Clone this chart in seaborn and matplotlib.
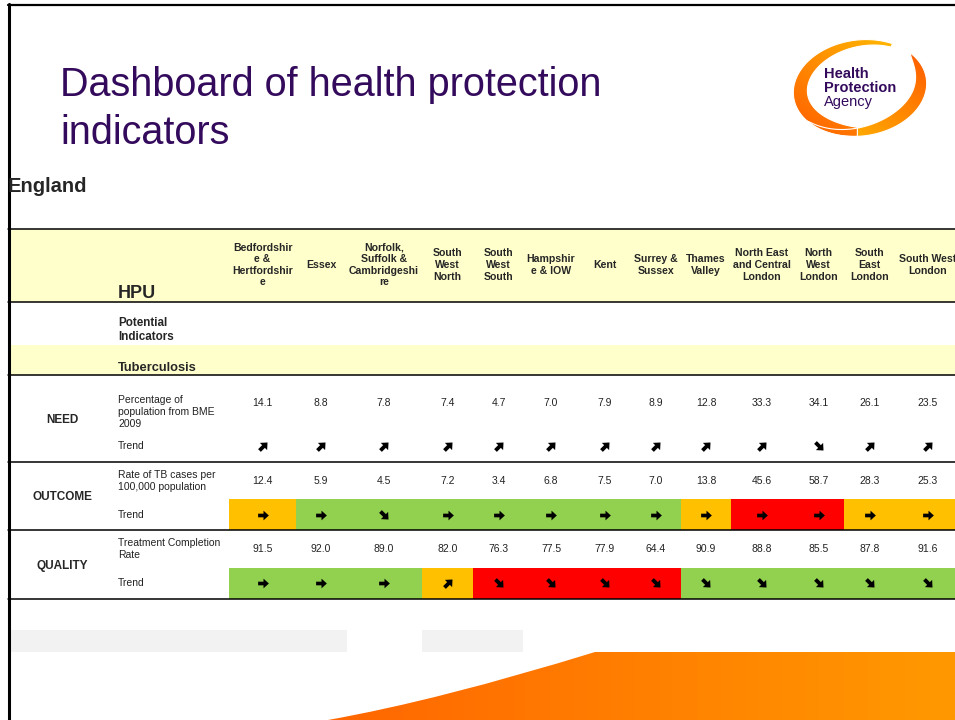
import numpy as np
import matplotlib
matplotlib.use("Agg")
import matplotlib.pyplot as plt
from matplotlib.colors import ListedColormap, to_rgb
from matplotlib.path import Path
from matplotlib.patches import PathPatch, Rectangle
import seaborn as sns

# -------------------------
# Data
# -------------------------
hpu_names = [
    "Bedfordshir\ne &\nHertfordshir\ne", "Essex", "Norfolk,\nSuffolk &\nCambridgeshi\nre",
    "South\nWest\nNorth", "South\nWest\nSouth", "Hampshir\ne & IOW", "Kent",
    "Surrey &\nSussex", "Thames\nValley", "North East\nand Central\nLondon",
    "North\nWest\nLondon", "South\nEast\nLondon", "South West\nLondon",
]
bme_pct = [14.1, 8.8, 7.8, 7.4, 4.7, 7.0, 7.9, 8.9, 12.8, 33.3, 34.1, 26.1, 23.5]
bme_trend = ["up"] * 10 + ["down", "up", "up"]

tb_rate = [12.4, 5.9, 4.5, 7.2, 3.4, 6.8, 7.5, 7.0, 13.8, 45.6, 58.7, 28.3, 25.3]
tb_trend = ["flat", "flat", "down"] + ["flat"] * 10
tb_rag = ["A", "G", "G", "G", "G", "G", "G", "G", "A", "R", "R", "A", "A"]

completion = [91.5, 92.0, 89.0, 82.0, 76.3, 77.5, 77.9, 64.4, 90.9, 88.8, 85.5, 87.8, 91.6]
completion_trend = ["flat", "flat", "flat", "up"] + ["down"] * 9
completion_rag = ["G", "G", "G", "A", "R", "R", "R", "R", "G", "G", "G", "G", "G"]

sections = ["NEED", "OUTCOME", "QUALITY"]
indicators = ["Percentage of\npopulation from BME\n2009",
              "Rate of TB cases per\n100,000 population",
              "Treatment Completion\nRate"]

# -------------------------
# Layout (pixel coordinates)
# -------------------------
W, H = 955, 720
col_edges = [229, 296, 346, 422, 473, 524, 578, 631, 681, 731, 793, 844, 895, 960]
col_mid = [(a + b) / 2 for a, b in zip(col_edges[:-1], col_edges[1:])]
col_w = np.diff(col_edges)

PURPLE = "#330a5c"
YELLOW = "#ffffcc"
rag_codes = {"G": 0, "A": 1, "R": 2}
rag_cmap = ListedColormap(["#92d050", "#ffc000", "#ff0000"])
arrow_rot = {"up": 45, "flat": 0, "down": -45}

sns.set_theme(style="white")
plt.rcParams["font.family"] = ["Liberation Sans", "DejaVu Sans"]

fig = plt.figure(figsize=(9.55, 7.2), dpi=100)


def rag_row(rag, y0, y1):
    # one heatmap strip, columns repeated by pixel width so cells keep their widths
    hax = fig.add_axes([col_edges[0] / W, 1 - y1 / H,
                        (col_edges[-1] - col_edges[0]) / W, (y1 - y0) / H])
    codes = np.array([[rag_codes[r] for r in rag]])
    sns.heatmap(np.repeat(codes, col_w, axis=1), ax=hax, cmap=rag_cmap,
                vmin=-0.5, vmax=2.5, cbar=False,
                xticklabels=False, yticklabels=False)
    hax.set_axis_off()


rag_row(tb_rag, 499, 530)
rag_row(completion_rag, 568, 599)

ax = fig.add_axes([0, 0, 1, 1], facecolor="none")
ax.set_xlim(0, W)
ax.set_ylim(H, 0)
ax.set_axis_off()


def arrow_marker(deg):
    v = np.array([(-0.5, -0.17), (0.0, -0.17), (0.0, -0.45), (0.5, 0.0),
                  (0.0, 0.45), (0.0, 0.17), (-0.5, 0.17), (-0.5, -0.17)])
    r = np.radians(deg)
    rot = np.array([[np.cos(r), -np.sin(r)], [np.sin(r), np.cos(r)]])
    v = v @ rot.T
    return Path(v, [Path.MOVETO] + [Path.LINETO] * 6 + [Path.CLOSEPOLY])


# slide border
ax.plot([8, W], [4.5, 4.5], color="black", lw=1.6)
ax.plot([8.5, 8.5], [4, H], color="black", lw=2.2)

# title
ax.text(60, 96, "Dashboard of health protection", fontsize=28.5, color=PURPLE, va="baseline")
ax.text(60, 144, "indicators", fontsize=28.5, color=PURPLE, va="baseline")
ax.text(8, 192, "England", fontsize=14.5, fontweight="bold", va="baseline")


# logo
def swoosh(p0, p1, wfun, cx=860, cy=88, a=67, b=48, rot=8):
    phi = np.radians(np.linspace(p0, p1, 120))
    t = np.linspace(0, 1, 120)
    w = wfun(t)
    r = np.radians(rot)

    def pts(aa, bb):
        x = aa * np.cos(phi)
        y = bb * np.sin(phi)
        return np.c_[cx + x * np.cos(r) - y * np.sin(r), cy - (x * np.sin(r) + y * np.cos(r))]

    outer = pts(a, b)
    inner = pts(a - w, b - w)[::-1]
    verts = np.vstack([outer, inner, outer[:1]])
    codes = [Path.MOVETO] + [Path.LINETO] * (len(verts) - 2) + [Path.CLOSEPOLY]
    return Path(verts, codes)


def diag_fill(path, c_tr, c_bl, extent):
    # diagonal gradient from top-right colour to bottom-left colour
    patch = PathPatch(path, facecolor="none", edgecolor="white", lw=0.8, zorder=4)
    ax.add_patch(patch)
    gx, gy = np.meshgrid(np.linspace(0, 1, 64), np.linspace(0, 1, 64))
    f = np.clip((gx + gy) / 2, 0, 1)[..., None]  # 1 at top-right (origin lower)
    img = f * np.array(to_rgb(c_tr)) + (1 - f) * np.array(to_rgb(c_bl))
    im = ax.imshow(img, extent=extent, aspect="auto", zorder=3, origin="lower")
    im.set_clip_path(patch)


logo_ext = [790, 930, 140, 35]
pB = swoosh(35, -148, lambda t: 17 * np.sin(np.pi * t) ** 0.7 * (1.1 - 0.7 * t))
diag_fill(pB, "#ff5000", "#ffc800", logo_ext)
pA = swoosh(55, 262, lambda t: 2 + 18 * np.sin(np.pi * (0.1 + 0.8 * t)) ** 0.8 * (0.25 + 0.75 * t))
diag_fill(pA, "#ffc800", "#ff5a00", logo_ext)
ax.set_xlim(0, W)
ax.set_ylim(H, 0)

ax.text(824, 78, "Health", fontsize=10.5, fontweight="bold", color=PURPLE, va="baseline", zorder=5)
ax.text(824, 92, "Protection", fontsize=10.5, fontweight="bold", color=PURPLE, va="baseline", zorder=5)
ax.text(824, 106, "Agency", fontsize=10.5, color=PURPLE, va="baseline", zorder=5)

# header band and section band
ax.add_patch(Rectangle((8, 229), W - 8, 73, facecolor=YELLOW, edgecolor="none"))
ax.add_patch(Rectangle((8, 345), W - 8, 30, facecolor=YELLOW, edgecolor="none"))
for y in [228.5, 302, 375, 462, 530, 599]:
    ax.plot([8, W], [y, y], color="black", lw=1.1, zorder=6)

ax.text(118, 298, "HPU", fontsize=13, fontweight="bold", va="baseline")
for x, name in zip(col_mid, hpu_names):
    ax.text(x, 265, name, fontsize=7.6, fontweight="bold", ha="center", va="center",
            linespacing=1.2)

ax.text(118, 330, "Potential\nIndicators", fontsize=8.4, fontweight="bold", va="center",
        linespacing=1.25)
ax.text(118, 368, "Tuberculosis", fontsize=9.3, fontweight="bold", va="center")

# section rows
rows = [
    (bme_pct, bme_trend, 420, 412, 403, 446),
    (tb_rate, tb_trend, 497, 481, 481, 515),
    (completion, completion_trend, 566, 549.5, 549, 583),
]
for (vals, trend, y_lab, y_ind, y_val, y_tr), sec, ind in zip(rows, sections, indicators):
    ax.text(62, y_lab, sec, fontsize=8.5, fontweight="bold", ha="center", va="center")
    ax.text(118, y_ind, ind, fontsize=7.5, va="center", linespacing=1.25, color="#222222")
    ax.text(118, y_tr, "Trend", fontsize=7.5, va="center", color="#222222")
    for x, v, tr in zip(col_mid, vals, trend):
        ax.text(x, y_val, f"{v:.1f}", fontsize=7.5, ha="center", va="center", color="#222222")
        ax.scatter([x], [y_tr], marker=arrow_marker(arrow_rot[tr]), s=60,
                   color="black", linewidths=0, zorder=7)

# footer placeholders and swoosh
ax.add_patch(Rectangle((9, 630), 338, 22, facecolor="#f2f2f2", edgecolor="none"))
ax.add_patch(Rectangle((422, 630), 101, 22, facecolor="#f2f2f2", edgecolor="none"))

foot = Path([(328, 720), (440, 700), (595, 652), (W, 652), (W, H), (328, H)],
            [Path.MOVETO, Path.CURVE3, Path.CURVE3, Path.LINETO, Path.LINETO, Path.CLOSEPOLY])
fpatch = PathPatch(foot, facecolor="none", edgecolor="none")
ax.add_patch(fpatch)
fcm = sns.blend_palette(["#ff6600", "#ff9900"], as_cmap=True)
fim = ax.imshow(np.linspace(0, 1, 256)[None, :], cmap=fcm, extent=[328, W, H, 652],
                aspect="auto", zorder=2)
fim.set_clip_path(fpatch)
ax.set_xlim(0, W)
ax.set_ylim(H, 0)

fig.savefig("out.png", dpi=100)
